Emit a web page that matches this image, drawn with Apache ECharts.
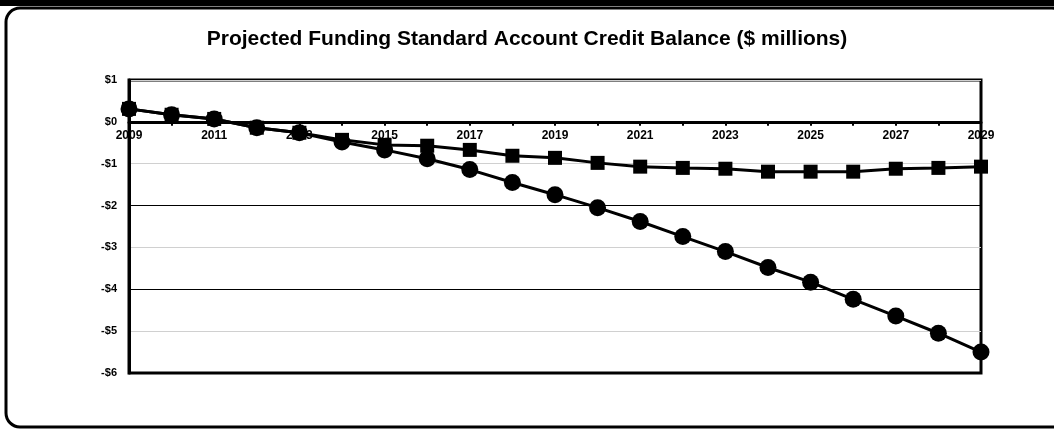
<!DOCTYPE html>
<html>
<head>
<meta charset="utf-8">
<script src="https://cdn.jsdelivr.net/npm/echarts@6/dist/echarts.min.js"></script>
<style>
  html, body { margin: 0; padding: 0; background: #fff; }
  #chart { width: 1054px; height: 432px; }
</style>
</head>
<body>
<div id="chart"></div>
<script>
// years on the x axis
const years = ['2009', '2010', '2011', '2012', '2013', '2014', '2015', '2016', '2017', '2018', '2019',
  '2020', '2021', '2022', '2023', '2024', '2025', '2026', '2027', '2028', '2029']
// square markers - flattening balance
const squareValues = [0.31, 0.17, 0.07, -0.14, -0.26, -0.43, -0.55, -0.57, -0.67, -0.81, -0.86,
  -0.98, -1.07, -1.10, -1.12, -1.19, -1.19, -1.19, -1.12, -1.10, -1.07]
// circle markers - falling balance
const circleValues = [0.31, 0.17, 0.07, -0.14, -0.26, -0.48, -0.67, -0.88, -1.14, -1.45, -1.74,
  -2.05, -2.38, -2.74, -3.10, -3.48, -3.83, -4.24, -4.64, -5.05, -5.50]
const titleText = 'Projected Funding Standard Account Credit Balance ($ millions)'

const chart = echarts.init(document.getElementById('chart'))
const font = 'Liberation Sans, Arial, sans-serif'

// grid box, the x axis is shifted up so it sits on the $0 line
const gridTop = 80
const gridBottom = 59
const yMin = -6
const yMax = 1
const plotHeight = 432 - gridTop - gridBottom
const zeroOffset = plotHeight * (0 - yMin) / (yMax - yMin)

chart.setOption({
  backgroundColor: '#fff',
  animation: false,
  // outer frame of the scanned figure
  graphic: [
    { type: 'rect', shape: { x: 0, y: 0, width: 1054, height: 6 }, style: { fill: '#000' }, z: -1 },
    { type: 'rect', shape: { x: 6, y: 8, width: 1060, height: 419, r: 14 },
      style: { fill: 'none', stroke: '#000', lineWidth: 3 }, z: -1 }
  ],
  title: {
    text: titleText,
    left: 'center',
    top: 24,
    textStyle: { fontFamily: font, fontSize: 21, fontWeight: 'bold', color: '#000' }
  },
  grid: {
    left: 129,
    right: 73,
    top: gridTop,
    bottom: gridBottom,
    show: true,
    borderColor: '#000',
    borderWidth: 3,
    backgroundColor: '#fff'
  },
  xAxis: {
    type: 'category',
    data: years,
    boundaryGap: false,
    position: 'bottom',
    offset: -zeroOffset,
    axisLine: { onZero: false, lineStyle: { color: '#000', width: 3 } },
    axisTick: { show: true, interval: 0, length: 4, lineStyle: { color: '#000', width: 2 } },
    axisLabel: {
      interval: 1,
      margin: 8,
      fontFamily: font,
      fontSize: 12,
      fontWeight: 'bold',
      color: '#000'
    },
    splitLine: { show: false }
  },
  yAxis: {
    type: 'value',
    min: yMin,
    max: yMax,
    interval: 1,
    axisLine: { show: true, lineStyle: { color: '#000', width: 3 } },
    axisTick: { show: false },
    axisLabel: {
      margin: 12,
      fontFamily: font,
      fontSize: 11,
      fontWeight: 'bold',
      color: '#000',
      formatter: v => (v < 0 ? '-$' + Math.abs(v) : '$' + v)
    },
    splitLine: { show: true, lineStyle: { color: ['#000', '#d0d0d0'], width: 1 } }
  },
  series: [
    {
      name: 'Square',
      type: 'line',
      data: squareValues,
      symbol: 'rect',
      symbolSize: 14,
      itemStyle: { color: '#000' },
      lineStyle: { color: '#000', width: 3 },
      z: 3
    },
    {
      name: 'Circle',
      type: 'line',
      data: circleValues,
      symbol: 'circle',
      symbolSize: 17,
      itemStyle: { color: '#000' },
      lineStyle: { color: '#000', width: 3 },
      z: 4
    }
  ]
})
</script>
</body>
</html>
